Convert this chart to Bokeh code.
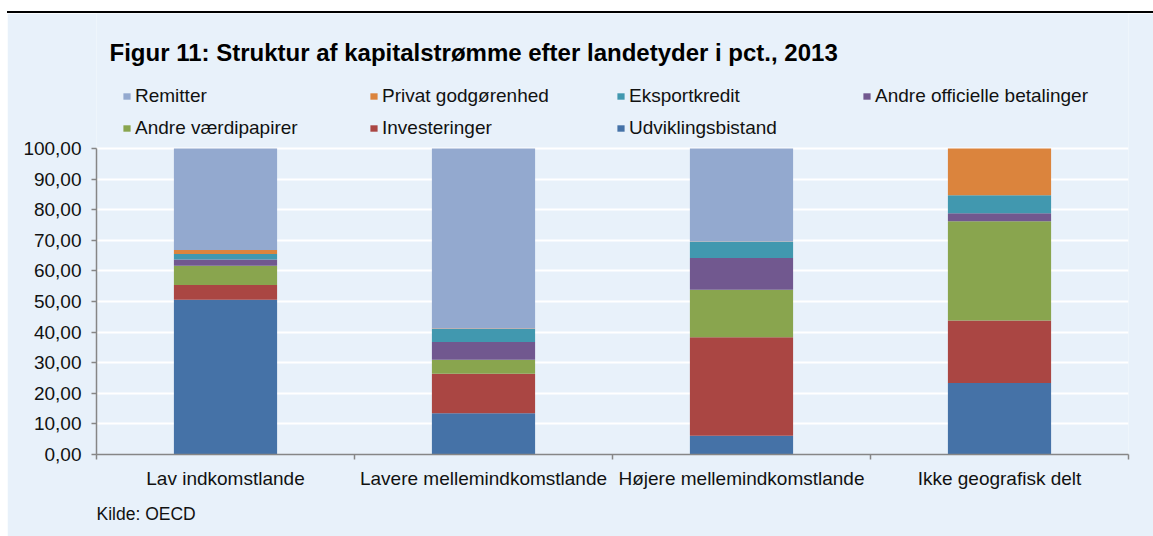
from bokeh.plotting import figure
from bokeh.models import (Range1d, FixedTicker, Legend, LegendItem, Label, Div,
                          ColumnDataSource, Title, Spacer)
from bokeh.layouts import column, row
from bokeh.embed import file_html
from bokeh.resources import INLINE

categories = ["Lav indkomstlande", "Lavere mellemindkomstlande",
              "Højere mellemindkomstlande", "Ikke geografisk delt"]
udviklingsbistand = [50.6, 13.5, 6.1, 23.4]
investeringer = [4.8, 12.9, 32.2, 20.4]
andre_vaerdipapirer = [6.3, 4.6, 15.5, 32.4]
andre_officielle = [2.0, 5.8, 10.4, 2.6]
eksportkredit = [1.8, 4.2, 5.3, 5.9]
privat_godgoerenhed = [1.3, 0.2, 0.1, 15.3]
remitter = [33.2, 58.8, 30.4, 0.0]
y_ticks = [0, 10, 20, 30, 40, 50, 60, 70, 80, 90, 100]

series_names = ["Udviklingsbistand", "Investeringer", "Andre værdipapirer",
                "Andre officielle betalinger", "Eksportkredit",
                "Privat godgørenhed", "Remitter"]
series_values = [udviklingsbistand, investeringer, andre_vaerdipapirer,
                 andre_officielle, eksportkredit, privat_godgoerenhed, remitter]
colors = ["#4572A7", "#AA4643", "#89A54E", "#71588F", "#4198AF", "#DB843D", "#93A9CF"]

PANEL = "#E8F1FA"
FONT = "Liberation Sans"

# layout (pixels)
INDENT = 7
FIG_W = 1146
LEFT = 89
PLOT_W = 1032
PLOT_H = 306          # height of 0..100
TOP_H = 135           # space above the 100 line (title + legend), inside the frame
BOTTOM = 82
frame_h = PLOT_H + TOP_H
y_top = 100 * frame_h / PLOT_H

keys = [f"s{i}" for i in range(len(series_names))]
data = {"x": [i + 0.5 for i in range(len(categories))]}
for k, v in zip(keys, series_values):
    data[k] = v
source = ColumnDataSource(data)

p = figure(frame_width=PLOT_W, frame_height=frame_h, min_border_left=LEFT,
           min_border_right=FIG_W - LEFT - PLOT_W, min_border_top=0,
           min_border_bottom=BOTTOM,
           x_range=Range1d(0, len(categories)), y_range=Range1d(0, y_top),
           output_backend="svg", toolbar_location=None)
p.background_fill_color = PANEL
p.border_fill_color = PANEL
p.outline_line_color = None

renderers = p.vbar_stack(keys, x="x", width=0.4, color=colors, source=source,
                         line_color=None)

# axes
p.yaxis.ticker = FixedTicker(ticks=y_ticks, minor_ticks=[])
p.yaxis.bounds = (0, 100)
p.yaxis.major_label_overrides = {t: f"{t:.2f}".replace(".", ",") for t in y_ticks}
p.yaxis.major_tick_out = 5
p.yaxis.major_tick_in = 0
p.yaxis.major_label_standoff = 10
p.xaxis.ticker = FixedTicker(ticks=data["x"], minor_ticks=list(range(len(categories) + 1)))
p.xaxis.major_label_overrides = {xv: c for xv, c in zip(data["x"], categories)}
p.xaxis.major_tick_out = 0
p.xaxis.major_tick_in = 0
p.xaxis.minor_tick_out = 5
p.xaxis.minor_tick_in = 0
p.xaxis.major_label_standoff = 8
for ax in (p.xaxis[0], p.yaxis[0]):
    ax.axis_line_color = "#868686"
    ax.axis_line_width = 1.5
    ax.major_tick_line_color = "#868686"
    ax.minor_tick_line_color = "#868686"
    ax.major_tick_line_width = 1.5
    ax.minor_tick_line_width = 1.5
    ax.major_label_text_font = FONT
    ax.major_label_text_font_size = "19px"
    ax.major_label_text_color = "#111111"

p.ygrid.ticker = FixedTicker(ticks=y_ticks, minor_ticks=[])
p.ygrid.grid_line_color = "white"
p.ygrid.grid_line_width = 2
p.xgrid.visible = False

# legend, in 4 columns (positions in px from the frame's bottom-left)
name_to_r = dict(zip(series_names, renderers))
legend_cols = [["Remitter", "Andre værdipapirer"],
               ["Privat godgørenhed", "Investeringer"],
               ["Eksportkredit", "Udviklingsbistand"],
               ["Andre officielle betalinger"]]
col_x = [26, 273, 520, 766]
for cx, names in zip(col_x, legend_cols):
    items = [LegendItem(label=n, renderers=[name_to_r[n]]) for n in names]
    nrows = len(names)
    lg = Legend(items=items, location=(cx, 315 + (2 - nrows) * 32),
                orientation="vertical", padding=0, margin=0, spacing=10,
                glyph_width=9, glyph_height=8, label_standoff=4, label_height=20,
                label_text_font=FONT, label_text_font_size="19px",
                label_text_color="#111111", border_line_color=None,
                background_fill_alpha=0)
    p.add_layout(lg, "center")

title = Label(x=13, y=402, x_units="screen", y_units="screen",
              text="Figur 11: Struktur af kapitalstrømme efter landetyder i pct., 2013",
              text_font=FONT, text_font_style="bold",
              text_font_size="24px", text_color="black", text_baseline="alphabetic")
p.add_layout(title)

kilde = Title(text="Kilde: OECD", align="left", vertical_align="top", offset=0,
              standoff=24, text_font=FONT, text_font_style="normal",
              text_font_size="17.5px", text_color="#111111")
p.add_layout(kilde, "below")

top = Div(text="", width=FIG_W, height=13, margin=0,
          styles={"background-color": "white", "border-bottom": "2px solid black"})

layout = row(Spacer(width=INDENT), column(top, p, spacing=0), spacing=0)
open("out.html", "w").write(file_html(layout, INLINE))
